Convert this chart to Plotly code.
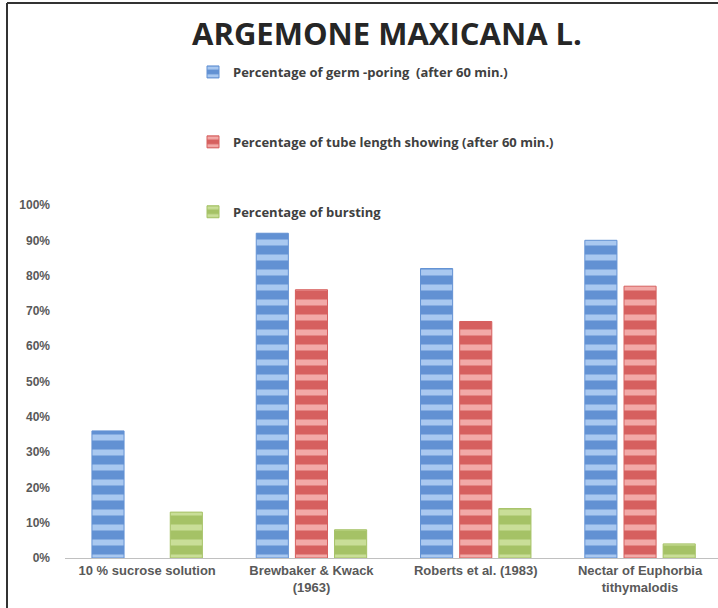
import plotly.graph_objects as go

categories = ["10 % sucrose solution", "Brewbaker & Kwack<br>(1963)",
              "Roberts et al. (1983)", "Nectar of Euphorbia<br>tithymalodis"]
germ_poring = [0.36, 0.92, 0.82, 0.90]
tube_length = [None, 0.76, 0.67, 0.77]
bursting = [0.13, 0.08, 0.14, 0.04]
series_names = ["Percentage of germ -poring  (after 60 min.)",
                "Percentage of tube length showing (after 60 min.)",
                "Percentage of bursting"]
y_ticks = [0, 0.1, 0.2, 0.3, 0.4, 0.5, 0.6, 0.7, 0.8, 0.9, 1.0]

W, H = 718, 608
L, R, T, B = 65, 0, 205, 50
pw, ph = W - L - R, H - T - B

def px(x):
    return (x - L) / pw

def py(y):
    return (H - B - y) / ph

styles = [
    ("#6291d3", "#a9c8f0"),
    ("#d6605f", "#f2aaa8"),
    ("#a5c266", "#c9de98"),
]

fig = go.Figure()
for i, (name, vals) in enumerate(zip(series_names, [germ_poring, tube_length, bursting])):
    dark, light = styles[i]
    fig.add_trace(go.Bar(
        x=categories, y=vals, name=name, legendgroup=f"g{i}",
        marker=dict(color=dark, line=dict(color=dark, width=1),
                    pattern=dict(shape="-", fillmode="overlay", fgcolor=light,
                                 fgopacity=1, size=15, solidity=0.4)),
    ))

cat_span = 164.3
fig.update_layout(
    width=W, height=H,
    margin=dict(l=L, r=R, t=T, b=B),
    paper_bgcolor="white", plot_bgcolor="white",
    barmode="group", bargap=0.285, bargroupgap=0.18,
    title=dict(text="<b>ARGEMONE MAXICANA L.</b>", x=387 / W, xref="container",
               y=1 - 34 / H, yref="container", xanchor="center", yanchor="middle",
               font=dict(family="Open Sans", size=31, color="#262626")),
    legend=dict(x=px(193), y=py(57), xanchor="left", yanchor="top",
                tracegroupgap=50, bgcolor="rgba(0,0,0,0)",
                font=dict(family="Open Sans", size=13, color="#404040", weight="bold")),
    font=dict(family="Liberation Sans", color="#595959"),
    xaxis=dict(range=[-0.5, -0.5 + pw / cat_span], showline=True, linecolor="#c0c0c0",
               linewidth=1, showgrid=False, ticks="", zeroline=False,
               tickfont=dict(size=13, color="#595959", weight="bold")),
    yaxis=dict(range=[0, 1], tickvals=y_ticks, tickformat=".0%", showgrid=False,
               zeroline=False, showline=False, ticks="", ticklabelstandoff=14,
               tickfont=dict(size=12, color="#595959", weight="bold")),
    shapes=[
        dict(type="line", xref="paper", yref="paper", x0=px(7), x1=px(7),
             y0=py(H + 5), y1=py(3), line=dict(color="#333333", width=2)),
        dict(type="line", xref="paper", yref="paper", x0=px(7), x1=px(W + 5),
             y0=py(3), y1=py(3), line=dict(color="#333333", width=2)),
    ],
)

fig.write_html("out.html")
